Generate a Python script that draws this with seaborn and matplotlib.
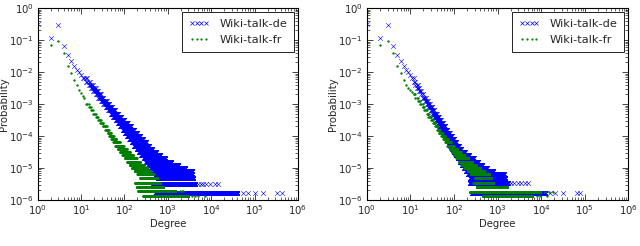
import numpy as np
import pandas as pd
import matplotlib
matplotlib.use("Agg")
import matplotlib.pyplot as plt
from matplotlib.lines import Line2D
import seaborn as sns

sns.set_style("ticks")
plt.rcParams['font.family'] = ['DejaVu Sans']

# ---------------- data ----------------
# single degrees at the head of each distribution
head_k = [1, 2, 3, 4, 5, 6, 7, 8, 9, 10]
de_head_p = [0.31, 0.12, 0.30, 0.066, 0.035, 0.023, 0.0155, 0.0118, 0.0098, 0.0079]
fr_head_k = [1, 2, 3, 4, 5, 6, 7, 8, 9, 10, 11, 12]
fr_a_head_p = [0.75, 0.072, 0.094, 0.04, 0.015, 0.0093, 0.0058, 0.004, 0.0028, 0.0022, 0.0018, 0.0015]
fr_b_head_p = [0.75, 0.072, 0.094, 0.04, 0.015, 0.0093, 0.0058, 0.004, 0.0032, 0.0027, 0.0023, 0.0020]

# probability levels (log10) and the degree span that sits on each level
de_a_logp = [-2.2, -2.3, -2.4, -2.5, -2.6, -2.7, -2.8, -2.9, -3.0, -3.1, -3.2, -3.3,
             -3.4, -3.5, -3.6, -3.7, -3.8, -3.9, -4.0, -4.1, -4.2, -4.3, -4.4, -4.5,
             -4.6, -4.7, -4.8, -4.9, -5.0, -5.1, -5.2, -5.31, -5.49, -5.79]
de_a_lo = [11, 13, 15, 17, 19, 22, 25, 29, 33, 37, 43, 49, 55, 63, 71, 80, 91, 103,
           116, 131, 149, 169, 191, 216, 245, 277, 313, 352, 398, 464, 541, 600, 450, 520]
de_a_hi = [14, 16, 19, 22, 25, 29, 33, 39, 45, 52, 61, 72, 85, 100, 119, 141, 166, 196,
           231, 271, 316, 369, 440, 537, 667, 873, 1211, 1762, 2512, 3690, 3700, 3900, 4300, 39000]
de_a_tail_k = [5000, 5800, 6600, 7600, 9300, 12000, 14500,
               55000, 72000, 102000, 158000, 324000, 427000]
de_a_tail_logp = [-5.49] * 7 + [-5.79] * 6

fr_a_logp = [-3.0, -3.1, -3.2, -3.3, -3.4, -3.5, -3.6, -3.7, -3.8, -3.9, -4.0, -4.1,
             -4.2, -4.3, -4.4, -4.5, -4.6, -4.7, -4.8, -4.9, -5.0, -5.1, -5.2, -5.3,
             -5.47, -5.59, -5.72, -5.87]
fr_a_lo = [13, 15, 17, 19, 22, 25, 28, 32, 36, 41, 45, 50, 56, 62, 70, 79, 90, 103,
           117, 132, 151, 173, 201, 233, 178, 194, 210, 275]
fr_a_hi = [15, 17, 19, 22, 25, 29, 33, 39, 44, 50, 57, 66, 79, 96, 114, 134, 158, 191,
           229, 282, 341, 398, 464, 562, 665, 790, 1480, 2970]
fr_a_tail_k = [1900, 2100, 2300, 3550, 4250, 5100, 7200]
fr_a_tail_logp = [-5.72] * 3 + [-5.87] * 4

de_b_logp = [-2.2, -2.3, -2.4, -2.5, -2.6, -2.7, -2.8, -2.9, -3.0, -3.1, -3.2, -3.3,
             -3.4, -3.5, -3.6, -3.7, -3.8, -3.9, -4.0, -4.1, -4.2, -4.3, -4.4, -4.5,
             -4.6, -4.7, -4.8, -4.9, -5.0, -5.1, -5.2, -5.3, -5.48, -5.77]
de_b_lo = [11, 12, 13, 14, 16, 18, 19, 22, 24, 26, 29, 32, 35, 38, 42, 46, 51, 57,
           63, 69, 76, 83, 91, 100, 111, 123, 136, 151, 168, 188, 211, 237, 230, 260]
de_b_hi = [12, 13, 15, 16, 18, 20, 23, 25, 28, 32, 35, 40, 45, 50, 56, 63, 71, 79,
           89, 100, 114, 130, 148, 178, 224, 282, 355, 447, 562, 794, 1380, 1500, 1700, 12000]
de_b_tail_k = [2000, 2400, 2900, 3500, 4200, 5000,
               15500, 21000, 32000, 66000, 78000]
de_b_tail_logp = [-5.48] * 6 + [-5.77] * 5

fr_b_logp = [-2.7, -2.8, -2.9, -3.0, -3.1, -3.2, -3.3, -3.4, -3.5, -3.6, -3.7, -3.8,
             -3.9, -4.0, -4.1, -4.2, -4.3, -4.4, -4.5, -4.6, -4.7, -4.8, -4.9, -5.0,
             -5.1, -5.2, -5.3, -5.47, -5.59, -5.74, -5.88]
fr_b_lo = [12, 13, 15, 17, 19, 21, 24, 26, 30, 33, 37, 41, 45, 51, 57, 63, 71, 79,
           89, 100, 114, 130, 148, 173, 205, 243, 308, 280, 330, 235, 470]
fr_b_hi = [13, 15, 17, 19, 21, 24, 27, 30, 33, 37, 42, 48, 55, 63, 74, 86, 100, 120,
           145, 175, 214, 262, 323, 398, 501, 631, 700, 800, 1650, 9500, 6000]
fr_b_tail_k = [12000, 15000, 19000, 8000, 9300, 13500]
fr_b_tail_logp = [-5.74] * 3 + [-5.88] * 3


def decode(head_k, head_p, logp, lo, hi, tail_k, tail_logp):
    # every degree from lo to hi sits on the same probability level
    ks, ps = list(head_k), list(head_p)
    for lp, a, b in zip(logp, lo, hi):
        deg = np.arange(a, b + 1)
        ks.extend(deg)
        ps.extend([10.0 ** lp] * len(deg))
    ks.extend(tail_k)
    ps.extend([10.0 ** lp for lp in tail_logp])
    return pd.DataFrame({"Degree": ks, "Probability": ps})


panels = [
    (decode(head_k, de_head_p, de_a_logp, de_a_lo, de_a_hi, de_a_tail_k, de_a_tail_logp),
     decode(fr_head_k, fr_a_head_p, fr_a_logp, fr_a_lo, fr_a_hi, fr_a_tail_k, fr_a_tail_logp)),
    (decode(head_k, de_head_p, de_b_logp, de_b_lo, de_b_hi, de_b_tail_k, de_b_tail_logp),
     decode(fr_head_k, fr_b_head_p, fr_b_logp, fr_b_lo, fr_b_hi, fr_b_tail_k, fr_b_tail_logp)),
]

fig = plt.figure(figsize=(6.4, 2.46), dpi=100)
axes = [fig.add_axes([0.0586, 0.187, 0.407, 0.780]),
        fig.add_axes([0.5730, 0.187, 0.409, 0.780])]

fs = 7.3
for ax, (df_de, df_fr) in zip(axes, panels):
    sns.scatterplot(data=df_de, x="Degree", y="Probability", marker="x", color="b",
                    s=11, linewidth=0.4, ax=ax, legend=False)
    sns.scatterplot(data=df_fr, x="Degree", y="Probability", marker="o", color="g",
                    s=3, linewidth=0, ax=ax, legend=False)
    ax.set_xscale("log")
    ax.set_yscale("log")
    ax.set_xlim(1, 1e6)
    ax.set_ylim(1e-6, 1)
    ax.set_xlabel("Degree", fontsize=fs, labelpad=1)
    ax.set_ylabel("Probability", fontsize=fs)
    ax.yaxis.set_label_coords(-0.11, 0.5)
    ax.tick_params(which="both", direction="in", top=True, right=True, labelsize=fs, pad=2.5)
    ax.tick_params(which="major", length=4, width=0.6)
    ax.tick_params(which="minor", length=2, width=0.5)
    for sp in ax.spines.values():
        sp.set_linewidth(0.8)
        sp.set_color("black")
    handles = [Line2D([], [], ls="none", marker="x", color="b", ms=3.3, mew=0.5),
               Line2D([], [], ls="none", marker="o", color="g", ms=1.6, mew=0)]
    ax.legend(handles, ["Wiki-talk-de", "Wiki-talk-fr"], numpoints=4, loc="upper right",
              fontsize=8.2, fancybox=False, edgecolor="black", framealpha=1,
              borderaxespad=0.35, handlelength=1.8, handletextpad=0.9,
              borderpad=0.6, labelspacing=0.55)
    ax.get_legend().get_frame().set_linewidth(0.6)

fig.savefig("out.png", dpi=100)
